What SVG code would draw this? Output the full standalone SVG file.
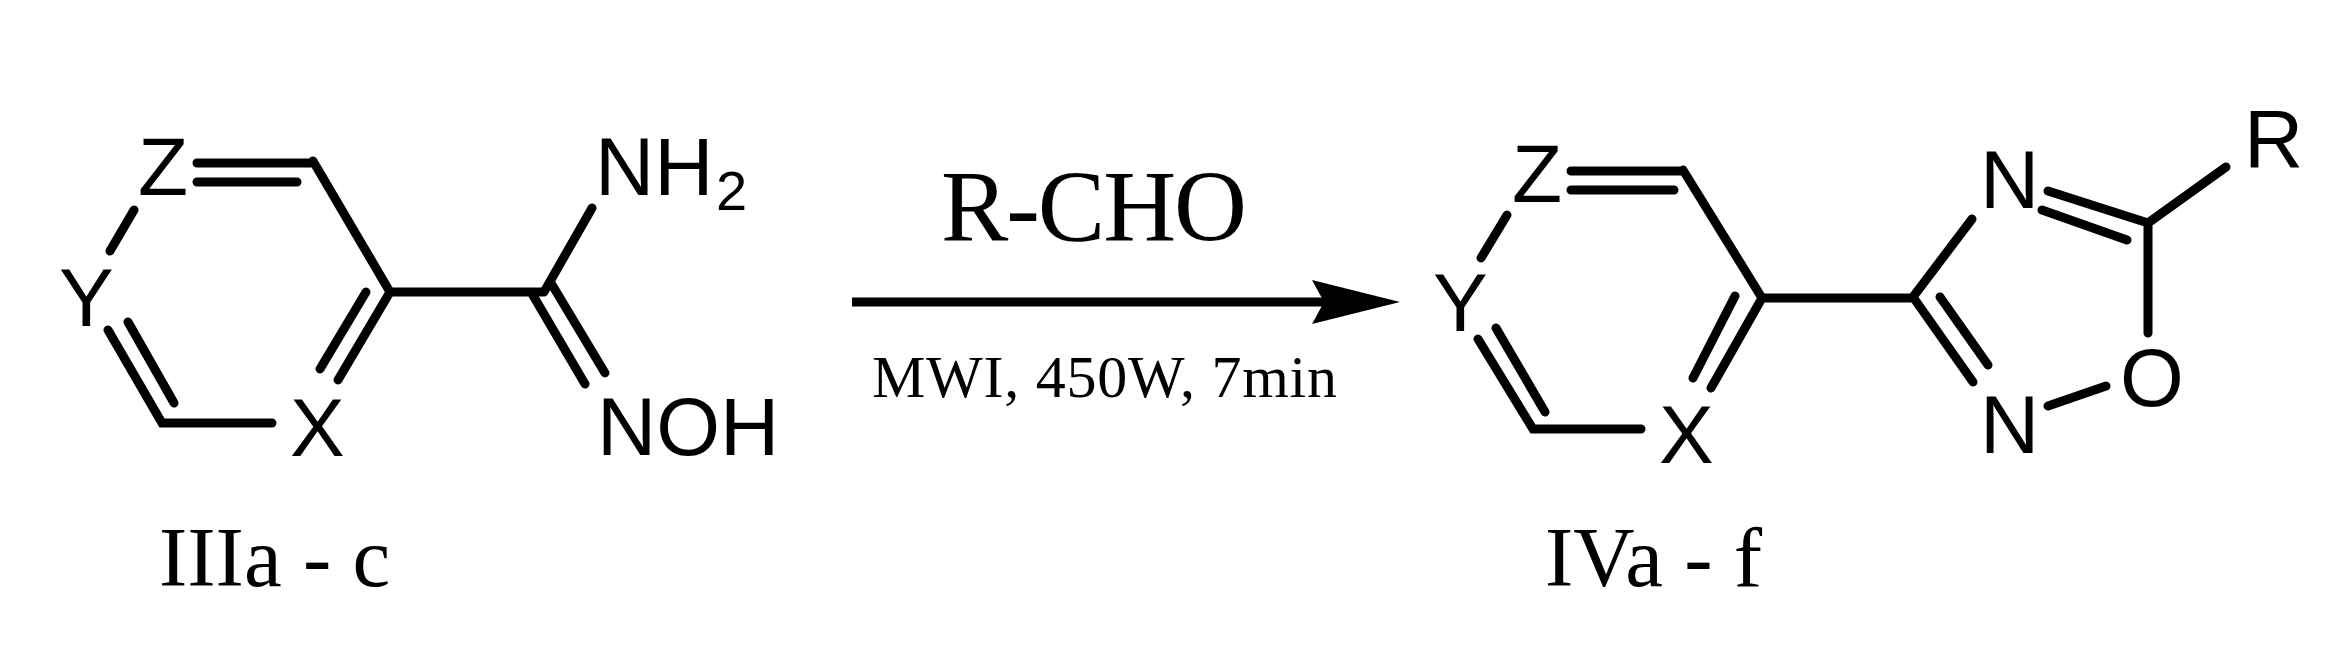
<svg xmlns="http://www.w3.org/2000/svg" width="2341" height="669" viewBox="0 0 2341 669">
<style>
.b{stroke:#000;stroke-width:9;stroke-linecap:round;fill:none}
.a{font-family:"Liberation Sans",Arial,sans-serif;font-size:82px;fill:#000}
.s{font-family:"Liberation Sans",Arial,sans-serif;font-size:56px;fill:#000}
.t{font-family:"Liberation Serif","Times New Roman",serif;fill:#000}
</style>
<g id="reactant">
<path class="b" d="M197,163H313 M197,182H297 M313,161L390,292L338,380 M366,292L320,369 M272,423H162L108,330 M174,403L128,322 M110,251L134,210 M390,292H544 M544,292L592,208 M531,292L585,384 M551,283L605,373"/>
<text class="a" x="138" y="195">Z</text>
<text class="a" x="59" y="326">Y</text>
<text class="a" x="290" y="456">X</text>
<text class="a" x="595" y="195">NH</text><text class="s" x="716" y="210">2</text>
<text class="a" x="597" y="455">NOH</text>
<text class="t" x="159" y="586" font-size="85">IIIa - c</text>
</g>
<g id="connectors">
<line x1="852" y1="302" x2="1330" y2="302" stroke="#000" stroke-width="9"/>
<path d="M1312,280 L1400,302 L1312,324 L1324,302 Z" fill="#000"/>
</g>
<g id="reagents">
<text class="t" x="941" y="241" font-size="101" textLength="306">R-CHO</text>
<text class="t" x="872" y="397" font-size="60" textLength="465">MWI, 450W, 7min</text>
</g>
<g id="product">
<path class="b" d="M1571,171H1683 M1571,190H1674 M1683,170L1762,298L1711,388 M1735,296L1693,378 M1641,429H1533L1478,339 M1545,412L1496,328 M1481,258L1507,215 M1762,298H1913 M1913,297L1972,219 M2048,191L2148,223 M2042,210L2127,240 M2148,223L2226,167 M2148,223V333 M2106,386L2048,406 M1913,297L1973,382 M1940,297L1988,365"/>
<text class="a" x="1512" y="202">Z</text>
<text class="a" x="1433" y="331">Y</text>
<text class="a" x="1659" y="463">X</text>
<text class="a" x="1980" y="208">N</text>
<text class="a" x="2244" y="167">R</text>
<text class="a" x="2120" y="406">O</text>
<text class="a" x="1980" y="453">N</text>
<text class="t" x="1545" y="586" font-size="85">IVa - f</text>
</g>
</svg>
